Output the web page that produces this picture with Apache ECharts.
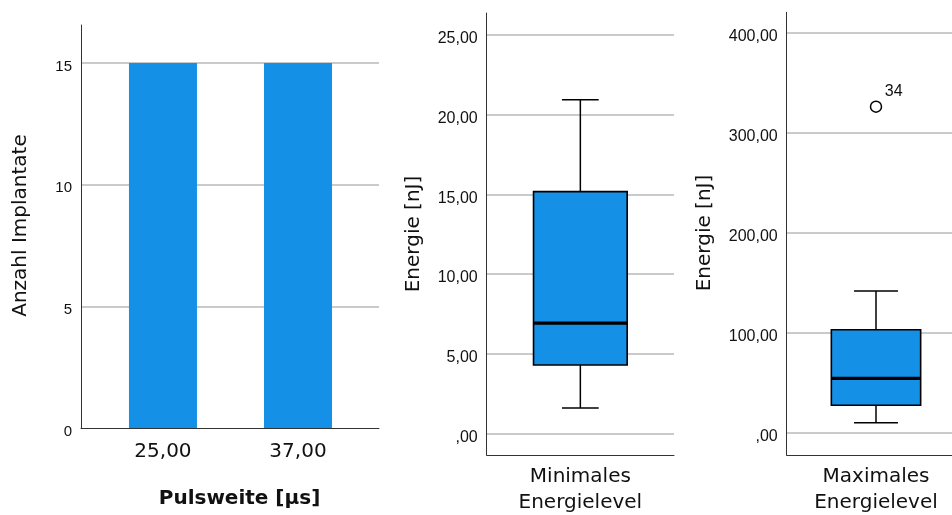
<!DOCTYPE html>
<html>
<head>
<meta charset="utf-8">
<script src="https://cdn.jsdelivr.net/npm/echarts@6/dist/echarts.min.js"></script>
<style>
html,body{margin:0;padding:0;background:#fff;}
#chart{width:952px;height:515px;}
</style>
</head>
<body>
<div id="chart"></div>
<script>
// ---- data ----
const barCategories = ['25,00', '37,00'];
const barCounts = [15, 15];
const boxCategoryMin = ['Minimales\nEnergielevel'];
const boxCategoryMax = ['Maximales\nEnergielevel'];
// [lower whisker, Q1, median, Q3, upper whisker]
const minEnergyStats = [1.59, 4.29, 6.92, 15.17, 20.94];
const maxEnergyStats = [10.3, 27.7, 54.7, 103.3, 142.0];
const maxOutlierValues = [326.3];
const maxOutlierIds = ['34'];
const barTitleY = 'Anzahl Implantate';
const barTitleX = 'Pulsweite [µs]';
const boxTitleY = 'Energie [nJ]';

const BLUE = '#1490e6';
const GRID = '#b9b9b9';
const AXIS = '#333333';
const TEXT = '#111111';
const SANS = '"Liberation Sans", Arial, sans-serif';
const WIDE = '"DejaVu Sans", sans-serif';

function deNum(v) {
  if (Math.abs(v) < 1e-9) return ',00';
  return v.toFixed(2).replace('.', ',');
}

function boxRender(capRatio) {
  return function (params, api) {
    const x = api.value(0);
    const lo = api.coord([x, api.value(1)]);
    const q1 = api.coord([x, api.value(2)]);
    const md = api.coord([x, api.value(3)]);
    const q3 = api.coord([x, api.value(4)]);
    const hi = api.coord([x, api.value(5)]);
    const band = api.size([1, 0])[0];
    const bw = band * 0.5;
    const cw = band * capRatio;
    const cx = md[0];
    const ls = { stroke: '#000', lineWidth: 1.5 };
    return {
      type: 'group',
      children: [
        { type: 'line', shape: { x1: cx, y1: hi[1], x2: cx, y2: q3[1] }, style: ls },
        { type: 'line', shape: { x1: cx, y1: q1[1], x2: cx, y2: lo[1] }, style: ls },
        { type: 'line', shape: { x1: cx - cw / 2, y1: hi[1], x2: cx + cw / 2, y2: hi[1] }, style: ls },
        { type: 'line', shape: { x1: cx - cw / 2, y1: lo[1], x2: cx + cw / 2, y2: lo[1] }, style: ls },
        { type: 'rect', shape: { x: cx - bw / 2, y: q3[1], width: bw, height: q1[1] - q3[1] },
          style: { fill: BLUE, stroke: '#000', lineWidth: 1.6 } },
        { type: 'line', shape: { x1: cx - bw / 2, y1: md[1], x2: cx + bw / 2, y2: md[1] },
          style: { stroke: '#000', lineWidth: 3.2 } }
      ]
    };
  };
}

const yLabelBase = { color: TEXT, fontFamily: SANS, margin: 9, verticalAlign: 'top', lineHeight: 8,
  showMinLabel: false, showMaxLabel: false };
const splitBase = { show: true, showMinLine: false, showMaxLine: false,
  lineStyle: { color: GRID, width: 1.5 } };
const axisLineBase = { show: true, onZero: false, lineStyle: { color: AXIS, width: 1 } };

const chart = echarts.init(document.getElementById('chart'), null, { renderer: 'canvas' });

const option = {
  animation: false,
  backgroundColor: '#fff',
  grid: [
    { left: 81, top: 25, width: 298, height: 403, outerBoundsMode: 'none', containLabel: false },
    { left: 486.7, top: 13, width: 187.3, height: 442, outerBoundsMode: 'none', containLabel: false },
    { left: 786.7, top: 12.3, width: 178.6, height: 442.7, outerBoundsMode: 'none', containLabel: false }
  ],
  xAxis: [
    {
      gridIndex: 0, type: 'value', min: -0.607, max: 1.6,
      axisLine: axisLineBase, axisTick: { show: false }, splitLine: { show: false },
      axisLabel: {
        customValues: [0, 1],
        formatter: v => barCategories[Math.round(v)],
        color: TEXT, fontFamily: WIDE, fontSize: 20, margin: 14
      }
    },
    {
      gridIndex: 1, type: 'category', data: boxCategoryMin,
      axisLine: axisLineBase, axisTick: { show: false },
      axisLabel: { color: TEXT, fontFamily: WIDE, fontSize: 20, lineHeight: 26, margin: 9 }
    },
    {
      gridIndex: 2, type: 'category', data: boxCategoryMax,
      axisLine: axisLineBase, axisTick: { show: false },
      axisLabel: { color: TEXT, fontFamily: WIDE, fontSize: 20, lineHeight: 26, margin: 9 }
    }
  ],
  yAxis: [
    {
      gridIndex: 0, type: 'value', min: 0, max: 16.56, minInterval: 5, maxInterval: 5, splitNumber: 3,
      axisLine: axisLineBase, axisTick: { show: false }, splitLine: splitBase,
      axisLabel: Object.assign({}, yLabelBase, { fontSize: 15, lineHeight: 7, showMinLabel: true })
    },
    {
      gridIndex: 1, type: 'value', min: -1.36, max: 26.38, minInterval: 5, maxInterval: 5, splitNumber: 5,
      axisLine: axisLineBase, axisTick: { show: false },
      splitLine: Object.assign({}, splitBase),
      axisLabel: Object.assign({}, yLabelBase, { fontSize: 16, formatter: deNum })
    },
    {
      gridIndex: 2, type: 'value', min: -22, max: 420.7, minInterval: 100, maxInterval: 100, splitNumber: 4,
      axisLine: axisLineBase, axisTick: { show: false },
      splitLine: Object.assign({}, splitBase),
      axisLabel: Object.assign({}, yLabelBase, { fontSize: 16, formatter: deNum })
    }
  ],
  series: [
    {
      type: 'bar', xAxisIndex: 0, yAxisIndex: 0, barWidth: 68,
      itemStyle: { color: BLUE },
      data: barCounts.map((v, i) => [i, v])
    },
    {
      type: 'custom', xAxisIndex: 1, yAxisIndex: 1,
      renderItem: boxRender(0.196),
      encode: { x: 0, y: [1, 2, 3, 4, 5] },
      data: [[0].concat(minEnergyStats)]
    },
    {
      type: 'custom', xAxisIndex: 2, yAxisIndex: 2,
      renderItem: boxRender(0.246),
      encode: { x: 0, y: [1, 2, 3, 4, 5] },
      data: [[0].concat(maxEnergyStats)]
    },
    {
      type: 'scatter', xAxisIndex: 2, yAxisIndex: 2,
      symbol: 'circle', symbolSize: 11,
      itemStyle: { color: '#fff', borderColor: '#000', borderWidth: 1.5, opacity: 1 },
      label: {
        show: true, position: 'right', offset: [-2.5, -15],
        formatter: p => maxOutlierIds[p.dataIndex],
        color: TEXT, fontFamily: SANS, fontSize: 16, textBorderWidth: 0
      },
      emphasis: { disabled: true },
      data: maxOutlierValues.map(v => [0, v])
    }
  ],
  graphic: [
    { type: 'text', x: 21, y: 225.5, rotation: Math.PI / 2,
      style: { text: barTitleY, fill: TEXT, font: '20px ' + WIDE, align: 'center', verticalAlign: 'middle' } },
    { type: 'text', x: 239.5, y: 498.5,
      style: { text: barTitleX, fill: TEXT, font: 'bold 20px ' + WIDE, align: 'center', verticalAlign: 'middle' } },
    { type: 'text', x: 413.5, y: 234, rotation: Math.PI / 2,
      style: { text: boxTitleY, fill: TEXT, font: '20px ' + WIDE, align: 'center', verticalAlign: 'middle' } },
    { type: 'text', x: 705, y: 233, rotation: Math.PI / 2,
      style: { text: boxTitleY, fill: TEXT, font: '20px ' + WIDE, align: 'center', verticalAlign: 'middle' } }
  ]
};
chart.setOption(option);
</script>
</body>
</html>
